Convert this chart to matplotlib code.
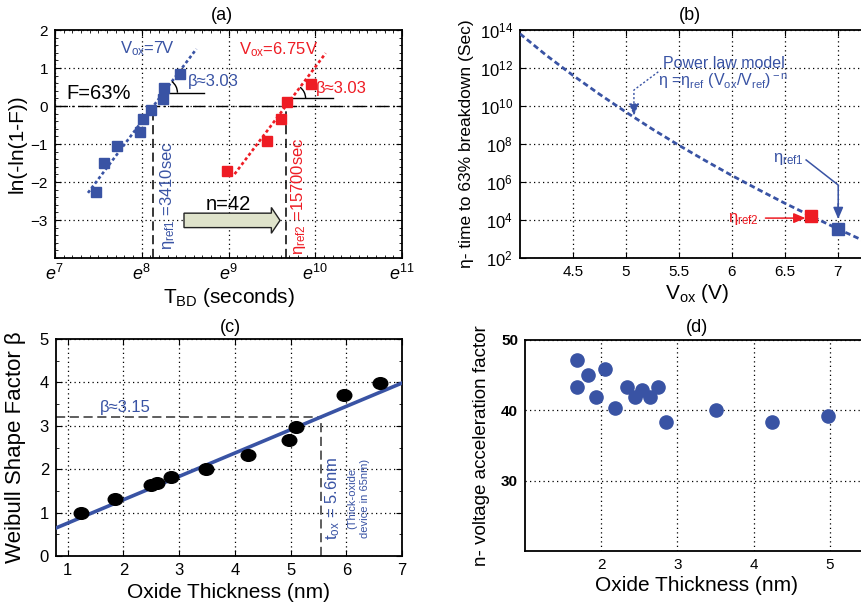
import numpy as np
import matplotlib
matplotlib.use("Agg")
import matplotlib.pyplot as plt
from matplotlib.ticker import MultipleLocator, FixedLocator, NullLocator, FuncFormatter
from matplotlib.patches import Arc
from matplotlib.path import Path
import matplotlib.transforms as mtransforms

plt.rcParams['font.family'] = ['Liberation Sans', 'DejaVu Sans']
plt.rcParams['mathtext.fontset'] = 'custom'
plt.rcParams['mathtext.rm'] = 'Liberation Sans'
plt.rcParams['mathtext.it'] = 'Liberation Sans:italic'
plt.rcParams['mathtext.bf'] = 'Liberation Sans:bold'

BLUE = '#3953a4'
RED = '#ee1c24'

# ---------------- data: panel (a) Weibull plot ----------------
lnT_7V = [7.47, 7.565, 7.72, 7.98, 8.01, 8.11, 8.24, 8.26, 8.44]
W_7V = [-2.27, -1.51, -1.04, -0.68, -0.35, -0.10, 0.18, 0.48, 0.84]
lnT_675V = [8.98, 9.44, 9.60, 9.68, 9.95]
W_675V = [-1.71, -0.92, -0.35, 0.10, 0.58]
beta_a = 3.03
eta_ref1 = 3410
eta_ref2 = 15700
fit_x_7V = [7.38, 8.63]
fit_x_675V = [9.07, 10.12]
xticks_a = [7, 8, 9, 10, 11]
yticks_a = [-3, -2, -1, 0, 1, 2]

# ---------------- data: panel (b) power law ----------------
Vox_pts = [7.0, 6.75]
eta_pts = [3410, 15700]
Vox_curve = [4.0, 4.25, 4.5, 4.75, 5.0, 5.25, 5.5, 5.75, 6.0, 6.25, 6.5, 6.75, 7.0, 7.25, 7.35]
log_eta_curve = [13.80, 12.66, 11.61, 10.62, 9.68, 8.78, 7.93, 7.12, 6.34, 5.60, 4.88, 4.20, 3.53, 2.89, 2.64]
xticks_b = [4.5, 5, 5.5, 6, 6.5, 7]
yticks_b = [1e2, 1e4, 1e6, 1e8, 1e10, 1e12, 1e14]

# ---------------- data: panel (c) beta vs tox ----------------
tox_c = [1.23, 1.85, 2.50, 2.61, 2.86, 3.49, 4.23, 4.97, 5.10, 5.96, 6.61]
beta_c = [1.00, 1.32, 1.63, 1.69, 1.83, 2.00, 2.33, 2.67, 2.97, 3.72, 3.99]
fit_slope_c = 0.538
fit_icpt_c = 0.22
fit_x_c = [0.79, 7.0]
beta_target = 3.2
tox_target = 5.55

# ---------------- data: panel (d) n vs tox ----------------
tox_d = [1.68, 1.68, 1.83, 1.93, 2.05, 2.18, 2.34, 2.44, 2.54, 2.64, 2.75, 2.85, 3.50, 4.24, 4.97]
n_d = [47.1, 43.2, 44.9, 41.8, 45.8, 40.3, 43.2, 41.8, 42.8, 41.8, 43.2, 38.3, 40.0, 38.3, 39.2]

W, H = 862, 610
fig = plt.figure(figsize=(W / 100, H / 100), dpi=100)


def axes_px(l, t, r, b):
    return fig.add_axes([l / W, 1 - b / H, (r - l) / W, (b - t) / H])


GRID = dict(color='black', linestyle=(0, (1, 2.6)), linewidth=0.9)


def style(ax):
    for s in ax.spines.values():
        s.set_linewidth(1.3)
    ax.tick_params(which='both', direction='in', top=True, right=True, labelsize=11, pad=5)
    ax.tick_params(which='major', length=4)
    ax.tick_params(which='minor', length=2.2)


# ======================= (a) =======================
axa = axes_px(55, 30, 402, 258)
style(axa)
axa.set_xlim(7, 11)
axa.set_ylim(-4, 2)
axa.xaxis.set_major_locator(FixedLocator(xticks_a))
axa.xaxis.set_major_formatter(FuncFormatter(lambda v, p: r'$e^{%d}$' % int(round(v))))
axa.xaxis.set_minor_locator(MultipleLocator(0.1))
axa.yaxis.set_major_locator(FixedLocator(yticks_a))
axa.yaxis.set_minor_locator(MultipleLocator(0.2))
axa.tick_params(axis='x', labelsize=13, pad=4)
axa.grid(True, which='major', **GRID)

l1 = np.log(eta_ref1)
l2 = np.log(eta_ref2)
fx1 = np.array(fit_x_7V)
fx2 = np.array(fit_x_675V)
axa.plot(fx1, beta_a * (fx1 - l1), color=BLUE, lw=1.9, dashes=(1.2, 1.0), zorder=3)
axa.plot(fx2, beta_a * (fx2 - l2), color=RED, lw=1.9, dashes=(1.2, 1.0), zorder=3)
axa.plot(lnT_7V, W_7V, 's', color=BLUE, ms=7.5, zorder=4)
axa.plot(lnT_675V, W_675V, 's', color=RED, ms=7.5, zorder=4)

axa.axhline(0, color='black', lw=1.0, linestyle=(0, (9, 3, 1.5, 3)), zorder=2)
axa.plot([l1, l1], [-4, 0], color='black', lw=1.1, linestyle=(0, (6, 3)), zorder=2)
axa.plot([l2, l2], [-4, 0], color='black', lw=1.1, linestyle=(0, (6, 3)), zorder=2)

# beta angle marks
for x0, y0, x1 in [(l1 + 0.35 / beta_a, 0.35, 8.72), (l2 + 0.2 / beta_a, 0.2, 10.21)]:
    axa.plot([x0, x1], [y0, y0], color='black', lw=1.0, zorder=3)
    tr = mtransforms.Affine2D() + mtransforms.ScaledTranslation(x0, y0, axa.transData)
    axa.add_patch(Arc((0, 0), 28, 28, theta1=0, theta2=53, transform=tr,
                      color='black', lw=1.0, zorder=3))

axa.text(8.06, 1.52, r'V$_{\rm ox}$=7V', color=BLUE, fontsize=12, ha='center', va='center')
axa.text(9.575, 1.47, r'V$_{\rm ox}$=6.75V', color=RED, fontsize=12, ha='center', va='center')
axa.text(7.135, 0.33, 'F=63%', color='black', fontsize=14.5, ha='left', va='center')
axa.text(8.537, 0.64, 'β≈3.03', color=BLUE, fontsize=12, ha='left', va='center')
axa.text(10.01, 0.47, 'β≈3.03', color=RED, fontsize=12, ha='left', va='center')
axa.text(8.30, -2.37, r'η$_{\rm ref1}$ =3410sec', color=BLUE, fontsize=12,
         rotation=90, ha='center', va='center')
axa.text(9.81, -2.36, r'η$_{\rm ref2}$ =15700sec', color=RED, fontsize=12,
         rotation=90, ha='center', va='center')
axa.arrow(8.487, -3.01, 9.594 - 8.487, 0, width=0.38, head_width=0.68, head_length=0.10,
          length_includes_head=True, fc='#dfe3cb', ec='#222222', lw=1.0, zorder=5)
axa.text(8.998, -2.58, 'n=42', color='black', fontsize=14.5, ha='center', va='center', zorder=6)

axa.set_ylabel('ln(-ln(1-F))', fontsize=15, labelpad=3)
axa.set_xlabel(r'T$_{\rm BD}$ (seconds)', fontsize=15, labelpad=2)
fig.text(222 / W, 1 - 15 / H, '(a)', fontsize=13, ha='center', va='center')

# ======================= (b) =======================
axb = axes_px(520, 30, 875, 258)
style(axb)
axb.set_yscale('log')
axb.set_xlim(4.0, 7.35)
axb.set_ylim(1e2, 1e14)
axb.xaxis.set_major_locator(FixedLocator(xticks_b))
axb.xaxis.set_major_formatter(FuncFormatter(lambda v, p: '%g' % v))
axb.xaxis.set_minor_locator(NullLocator())
axb.yaxis.set_major_locator(FixedLocator(yticks_b))
axb.yaxis.set_major_formatter(FuncFormatter(lambda v, p: r'$10^{%d}$' % int(round(np.log10(v)))))
axb.yaxis.set_minor_locator(NullLocator())
axb.tick_params(axis='y', labelsize=12)
axb.grid(True, which='major', **GRID)

axb.plot(Vox_curve, 10 ** np.array(log_eta_curve), color=BLUE, lw=2.0, dashes=(2.0, 1.2), zorder=3)
axb.plot(Vox_pts[0], eta_pts[0], 's', color=BLUE, ms=8, zorder=4)
axb.plot(Vox_pts[1], eta_pts[1], 's', color=RED, ms=8, zorder=4)

axb.text(5.92, 10 ** 12.26, 'Power law model', color=BLUE, fontsize=11.5, ha='center', va='center')
axb.text(5.92, 10 ** 11.28, r'η =η$_{\rm ref}$ (V$_{\rm ox}$/V$_{\rm ref}$)$^{\rm -n}$',
         color=BLUE, fontsize=11.5, ha='center', va='center')
axb.plot([5.305, 5.075, 5.075], [10 ** 11.8, 10 ** 10.84, 10 ** 9.9], color=BLUE, lw=1.0,
         linestyle=(0, (1.5, 1.5)), zorder=3)
axb.annotate('', xy=(5.075, 10 ** 9.35), xytext=(5.075, 10 ** 10.0),
             arrowprops=dict(arrowstyle='-|>,head_length=0.7,head_width=0.3', color=BLUE,
                             lw=1.0, linestyle=(0, (1.5, 1.5))))

axb.text(6.53, 10 ** 7.2, r'η$_{\rm ref1}$', color=BLUE, fontsize=12, ha='center', va='center')
axb.plot([6.70, 7.003, 7.003], [10 ** 7.16, 10 ** 5.84, 10 ** 4.5], color=BLUE, lw=1.1, zorder=3)
axb.annotate('', xy=(7.003, 10 ** 3.9), xytext=(7.003, 10 ** 5.0),
             arrowprops=dict(arrowstyle='-|>,head_length=0.7,head_width=0.3', color=BLUE, lw=1.1))
axb.text(6.11, 10 ** 4.03, r'η$_{\rm ref2}$', color=RED, fontsize=12, ha='center', va='center')
axb.annotate('', xy=(6.72, 10 ** 4.1), xytext=(6.29, 10 ** 4.1),
             arrowprops=dict(arrowstyle='-|>,head_length=0.7,head_width=0.3', color=RED, lw=1.1))

axb.set_ylabel('η- time to 63% breakdown (Sec)', fontsize=12.5, labelpad=4)
axb.set_xlabel(r'V$_{\rm ox}$ (V)', fontsize=15, labelpad=2)
fig.text(690 / W, 1 - 15 / H, '(b)', fontsize=13, ha='center', va='center')

# ======================= (c) =======================
axc = axes_px(56, 339, 402, 556)
style(axc)
axc.set_xlim(0.79, 7)
axc.set_ylim(0, 5)
axc.xaxis.set_major_locator(FixedLocator([1, 2, 3, 4, 5, 6, 7]))
axc.xaxis.set_minor_locator(NullLocator())
axc.yaxis.set_major_locator(FixedLocator([0, 1, 2, 3, 4, 5]))
axc.yaxis.set_minor_locator(MultipleLocator(0.5))
axc.tick_params(labelsize=12)
axc.grid(True, which='major', **GRID)

fxc = np.array(fit_x_c)
axc.plot(fxc, fit_slope_c * fxc + fit_icpt_c, color=BLUE, lw=2.6, zorder=3)
ell = Path.unit_circle().transformed(mtransforms.Affine2D().scale(1.0, 0.8))
axc.plot(tox_c, beta_c, linestyle='none', marker=ell, color='black', ms=10.5, zorder=4)
axc.plot([0.79, tox_target], [beta_target, beta_target], color='#333333', lw=1.1,
         linestyle=(0, (6, 3)), zorder=2)
axc.plot([tox_target, tox_target], [0, beta_target], color='#333333', lw=1.1,
         linestyle=(0, (6, 3)), zorder=2)
axc.text(1.58, 3.42, 'β≈3.15', color=BLUE, fontsize=12, ha='left', va='center')
axc.text(5.76, 1.32, r't$_{\rm ox}$ = 5.6nm', color=BLUE, fontsize=12, rotation=90,
         ha='center', va='center')
axc.text(6.22, 1.33, '(Thick-oxide\ndevice in 65nm)', color=BLUE, fontsize=8, rotation=90,
         ha='center', va='center', multialignment='center', linespacing=1.25)

axc.set_ylabel('Weibull Shape Factor β', fontsize=16, labelpad=10)
axc.set_xlabel('Oxide Thickness (nm)', fontsize=15, labelpad=4)
fig.text(230 / W, 1 - 327 / H, '(c)', fontsize=13, ha='center', va='center')

# ======================= (d) =======================
axd = axes_px(525, 339.5, 868, 551)
style(axd)
axd.set_xlim(1.0, 5.5)
axd.set_ylim(20, 50)
axd.xaxis.set_major_locator(FixedLocator([2, 3, 4, 5]))
axd.xaxis.set_minor_locator(NullLocator())
axd.yaxis.set_major_locator(FixedLocator([30, 40, 50]))
axd.yaxis.set_minor_locator(NullLocator())
axd.tick_params(labelsize=11, length=0)
for lab in axd.get_yticklabels():
    lab.set_fontweight('bold')
axd.grid(True, which='major', **GRID)
axd.plot(tox_d, n_d, 'o', color=BLUE, ms=9.5, zorder=4)
axd.set_ylabel('n- voltage acceleration factor', fontsize=13.5, labelpad=8)
axd.set_xlabel('Oxide Thickness (nm)', fontsize=15, labelpad=3)
fig.text(697 / W, 1 - 328 / H, '(d)', fontsize=13, ha='center', va='center')

fig.savefig('out.png', dpi=100)
